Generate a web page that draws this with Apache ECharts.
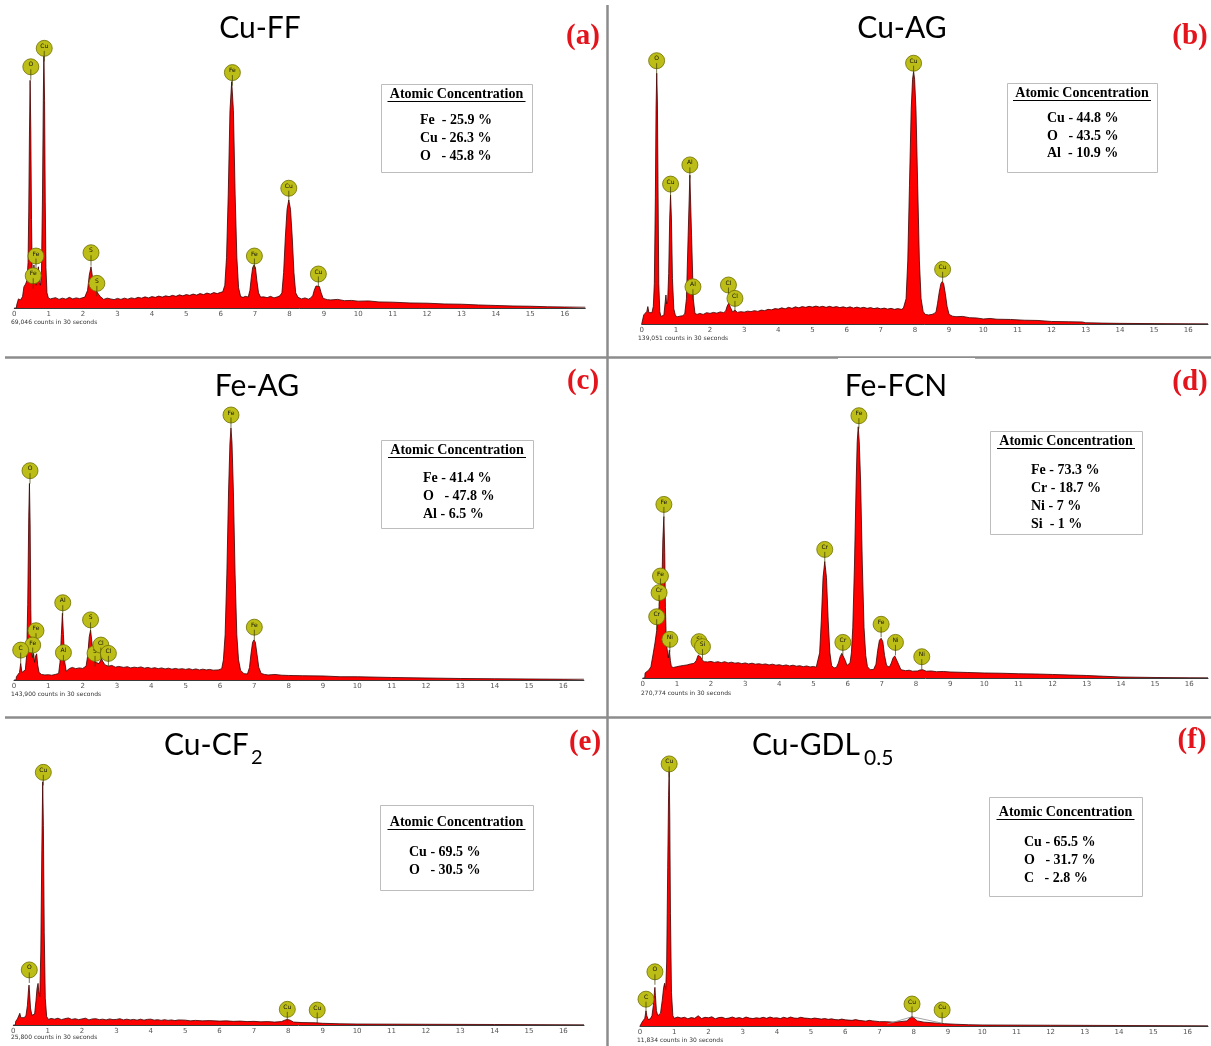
<!DOCTYPE html>
<html><head><meta charset="utf-8">
<script src="https://cdn.jsdelivr.net/npm/echarts@6/dist/echarts.min.js"></script>
<style>html,body{margin:0;padding:0;background:#fff}#c{width:1211px;height:1046px}</style>
</head><body><div id="c"></div><script>
// ---------- data ----------
const panelNames = ['Cu-FF', 'Cu-AG', 'Fe-AG', 'Fe-FCN', 'Cu-CF', 'Cu-GDL'];
const panelSubs = ['', '', '', '', '2', '0.5'];
const panelTags = ['(a)', '(b)', '(c)', '(d)', '(e)', '(f)'];
const countsText = ['69,046 counts in 30 seconds', '139,051 counts in 30 seconds', '143,900 counts in 30 seconds',
  '270,774 counts in 30 seconds', '25,800 counts in 30 seconds', '11,834 counts in 30 seconds'];
const tickLabels = ['0','1','2','3','4','5','6','7','8','9','10','11','12','13','14','15','16'];
const boxTitle = 'Atomic Concentration';
const concA = ['Fe  - 25.9 %', 'Cu - 26.3 %', 'O   - 45.8 %'];
const concB = ['Cu - 44.8 %', 'O   - 43.5 %', 'Al  - 10.9 %'];
const concC = ['Fe - 41.4 %', 'O   - 47.8 %', 'Al - 6.5 %'];
const concD = ['Fe - 73.3 %', 'Cr - 18.7 %', 'Ni - 7 %', 'Si  - 1 %'];
const concE = ['Cu - 69.5 %', 'O   - 30.5 %'];
const concF = ['Cu - 65.5 %', 'O   - 31.7 %', 'C   - 2.8 %'];

// spectra: [energy keV, relative counts (% of tallest peak)]
const specA = [[0,0],[0.06,0],[0.07,1.2],[0.12,3.6],[0.18,3.2],[0.24,4.5],[0.28,8.4],[0.33,9.5],[0.37,11],[0.4,18],[0.42,38],[0.44,68],[0.46,90],[0.48,70],[0.5,35],[0.52,15],[0.54,10],[0.57,17],[0.6,12],[0.63,9],[0.66,8.4],[0.7,16.3],[0.73,10],[0.76,9],[0.79,14],[0.82,45],[0.845,85],[0.86,100],[0.88,82],[0.9,42],[0.92,16],[0.95,6],[0.99,4],[1.05,3.6],
  [1.1,3.6],[1.2,4.1],[1.3,3.4],[1.4,3.9],[1.5,3.5],[1.6,4.2],[1.7,3.6],[1.8,4.0],[1.9,3.7],[2.05,4.3],[2.13,7],[2.18,13],[2.23,16.3],[2.27,12.5],[2.31,8.5],[2.36,8.2],[2.42,6],[2.5,4.5],[2.6,3.4],[2.7,3.9],[2.8,3.6],[2.9,3.3],[3.0,3.8],[3.1,3.4],[3.2,3.9],[3.3,3.5],[3.4,4.0],[3.5,3.7],[3.6,4.2],[3.7,3.9],[3.8,4.4],[3.9,4.0],[4.0,4.5],[4.1,4.2],[4.2,4.7],[4.3,4.3],[4.4,4.8],[4.5,4.5],[4.6,5.0],[4.7,4.6],[4.8,5.2],[4.9,4.8],[5.0,5.3],[5.1,5.0],[5.2,5.5],[5.3,5.1],[5.4,5.7],[5.5,5.3],[5.6,5.9],[5.7,5.5],[5.8,6.1],[5.9,5.7],[6.0,6.2],[6.06,6.4],
  [6.12,9],[6.17,20],[6.22,45],[6.27,78],[6.32,89.5],[6.37,78],[6.42,45],[6.47,20],[6.52,8],[6.58,4.5],[6.65,4.2],[6.72,4.6],[6.8,4.3],[6.85,7],[6.89,12],[6.93,16],[6.97,17],[7.01,16],[7.05,11],[7.1,6],[7.16,4.3],[7.25,4.4],[7.35,4.1],[7.45,4.6],[7.55,4.0],[7.65,4.4],[7.72,4.8],
  [7.78,6],[7.83,14],[7.88,28],[7.93,39],[7.98,42.7],[8.03,39],[8.08,28],[8.13,14],[8.18,6],[8.25,4.2],[8.35,3.6],[8.45,4.0],[8.55,3.5],[8.62,4.0],[8.68,5],[8.72,7],[8.77,8.7],[8.82,9.1],[8.87,8.5],[8.92,6],[8.98,3.8],[9.1,3.3],[9.2,3.2],[9.4,3.4],[9.6,2.9],[9.8,3.0],[10.0,2.7],[10.3,2.8],[10.6,2.4],[11.0,2.3],[11.5,2.0],[12.0,1.9],[12.5,1.6],[13.0,1.5],[13.5,1.2],[14.0,1.0],[14.5,0.8],[15.0,0.7],[15.5,0.5],[16.0,0.4],[16.6,0.3]];

const specB = [[0,0],[0.05,0],[0.06,3.6],[0.1,3.2],[0.15,5],[0.18,6.9],[0.21,4.5],[0.26,3.8],[0.3,4.5],[0.34,7],[0.37,16],[0.4,50],[0.42,85],[0.44,99.4],[0.46,88],[0.48,50],[0.5,16],[0.53,5],[0.56,3],[0.6,2.7],[0.65,3.5],[0.69,9],[0.71,11.5],[0.73,8],[0.76,9],[0.79,20],[0.82,42],[0.845,51.1],[0.87,42],[0.9,18],[0.94,6],[0.99,3.2],[1.05,2.9],[1.12,3.1],[1.2,3.3],[1.26,4],[1.31,10],[1.36,35],[1.41,59],[1.46,35],[1.51,10],[1.56,4.2],[1.62,3.8],[1.7,4.2],[1.8,3.8],[1.9,4.5],[2.0,4.2],[2.1,4.6],[2.2,4.3],[2.3,4.8],[2.4,4.5],[2.46,5.2],[2.5,7],[2.55,8.3],[2.6,6.5],[2.66,4.8],[2.73,5.5],[2.8,4.6],[2.9,4.9],[3.0,4.7],[3.1,5.1],[3.2,4.9],[3.3,5.3],[3.4,5.0],[3.5,5.5],[3.6,5.3],[3.7,5.8],[3.8,5.6],[3.9,6.1],[4.0,5.9],[4.1,6.4],[4.2,6.0],[4.3,6.6],[4.4,6.2],[4.5,6.8],[4.6,6.4],[4.7,6.9],[4.8,6.6],[4.9,7.0],[5.0,6.7],[5.1,7.1],[5.2,6.7],[5.3,7.0],[5.4,6.6],[5.5,7.0],[5.6,6.6],[5.7,6.9],[5.8,6.5],[5.9,6.8],[6.0,6.4],[6.1,6.8],[6.2,6.3],[6.3,6.7],[6.4,6.3],[6.5,6.6],[6.6,6.2],[6.7,6.5],[6.8,6.1],[6.9,6.4],[7.0,6.0],[7.1,6.3],[7.2,5.9],[7.3,6.2],[7.4,5.8],[7.5,6.1],[7.6,5.8],[7.66,6.2],
  [7.7,6.5],[7.74,10],[7.79,25],[7.84,55],[7.89,85],[7.93,97],[7.96,100],[7.99,97],[8.03,85],[8.08,55],[8.13,25],[8.18,10],[8.24,5],[8.3,3.8],[8.4,3.6],[8.5,3.8],[8.57,4.2],[8.62,5],[8.66,8],[8.71,12.5],[8.76,16],[8.8,16.8],[8.84,16],[8.89,12],[8.94,7],[9.0,3.8],[9.1,3.1],[9.2,2.9],[9.4,3.0],[9.6,2.5],[9.8,2.4],[10.0,2.0],[10.2,2.2],[10.4,1.9],[10.8,1.8],[11.2,1.5],[11.6,1.4],[12.0,1.0],[12.5,0.9],[12.9,0.8],[13.0,0.5],[13.5,0.35],[14.0,0.25],[15.0,0.15],[16.0,0.1],[16.58,0.1]];

const specC = [[0,0],[0.06,0],[0.07,1.3],[0.12,1.5],[0.16,3],[0.195,6.6],[0.23,3],[0.28,2.5],[0.33,4],[0.37,10],[0.4,30],[0.43,65],[0.45,78],[0.47,62],[0.49,28],[0.51,12],[0.54,9],[0.57,10.6],[0.6,7],[0.63,9.5],[0.66,10.4],[0.69,6],[0.73,3],[0.8,2.2],[0.9,2.0],[1.0,2.1],[1.1,1.9],[1.2,2.2],[1.3,2.6],[1.34,7],[1.38,18],[1.41,26.5],[1.44,18],[1.48,7],[1.52,3.5],[1.56,3.3],[1.62,4.6],[1.7,5],[1.8,4.5],[1.9,4.8],[2.0,4.6],[2.1,5.5],[2.15,10],[2.19,17],[2.23,19.8],[2.27,15],[2.31,9],[2.36,7],[2.42,6.8],[2.48,6.5],[2.52,7.8],[2.55,8.6],[2.58,7.5],[2.65,6],[2.75,5.5],[2.85,5.8],[2.95,5.1],[3.05,5.4],[3.2,5.0],[3.3,5.3],[3.4,4.8],[3.5,5.1],[3.6,4.9],[3.7,5.2],[3.8,4.7],[3.9,5.0],[4.0,4.6],[4.1,4.9],[4.2,4.5],[4.3,4.8],[4.4,4.4],[4.5,4.7],[4.6,4.3],[4.7,4.6],[4.8,4.3],[4.9,4.5],[5.0,4.2],[5.1,4.5],[5.2,4.1],[5.3,4.4],[5.4,4.0],[5.5,4.3],[5.6,4.0],[5.7,4.2],[5.8,3.9],[5.95,4.0],
  [6.05,4.5],[6.1,8],[6.15,18],[6.2,42],[6.25,75],[6.29,94],[6.32,100],[6.35,94],[6.39,75],[6.44,42],[6.49,18],[6.54,8],[6.6,3.8],[6.7,2.5],[6.8,2.4],[6.86,5],[6.9,10],[6.95,15],[6.99,15.9],[7.03,15],[7.08,10],[7.13,5],[7.2,2.6],[7.3,2.2],[7.4,2.0],[7.6,2.2],[7.8,1.9],[8.0,1.8],[8.4,1.7],[9.0,1.6],[9.5,1.3],[10.0,1.3],[11.0,1.0],[12.0,0.8],[13.0,0.6],[14.0,0.5],[15.0,0.4],[16.0,0.3],[16.6,0.3]];

const specD = [[0,0],[0.06,0],[0.07,2],[0.12,2.5],[0.18,3.2],[0.24,4.5],[0.31,9.9],[0.36,14],[0.41,19],[0.46,26],[0.5,31],[0.54,36],[0.57,42],[0.59,55],[0.62,64.2],[0.645,50],[0.665,28],[0.685,17.9],[0.71,12],[0.73,9.9],[0.75,8],[0.78,11.1],[0.81,7],[0.84,4.5],[0.9,4.2],[1.0,4.5],[1.1,4.8],[1.2,5.0],[1.3,5.2],[1.4,5.6],[1.5,5.8],[1.57,7],[1.62,9],[1.65,9.2],[1.69,8.5],[1.74,7.2],[1.8,6.5],[1.9,6.4],[2.0,6.6],[2.1,6.2],[2.2,6.5],[2.3,6.1],[2.4,6.5],[2.5,6.0],[2.6,6.3],[2.7,5.9],[2.8,6.1],[2.9,5.7],[3.0,6.0],[3.1,5.6],[3.2,5.9],[3.3,5.5],[3.4,5.7],[3.5,5.4],[3.6,5.6],[3.7,5.2],[3.8,5.5],[3.9,5.1],[4.0,5.3],[4.1,4.9],[4.2,5.2],[4.3,4.8],[4.4,5.1],[4.5,4.7],[4.6,4.9],[4.7,4.5],[4.8,4.8],[4.9,4.4],[5.0,4.6],[5.08,4.3],
  [5.13,5],[5.18,10],[5.23,23],[5.28,40],[5.33,46.3],[5.38,40],[5.43,23],[5.48,10],[5.53,5],[5.6,4],[5.67,4.2],[5.73,6],[5.78,8.5],[5.83,9.8],[5.88,9.5],[5.93,7],[5.98,5],[6.03,4.8],
  [6.07,6],[6.11,10],[6.15,20],[6.2,45],[6.25,78],[6.28,94],[6.31,100],[6.34,94],[6.38,78],[6.43,45],[6.48,20],[6.53,9],[6.58,4.5],[6.66,3.3],[6.76,3.4],[6.83,5.5],[6.88,11],[6.93,15],[6.98,15.8],[7.03,14.5],[7.08,9],[7.14,5],[7.22,4.3],[7.28,6],[7.33,8],[7.38,8.8],[7.43,8.2],[7.49,5.5],[7.56,3.3],[7.7,2.9],[7.8,3.1],[7.9,2.7],[8.05,2.8],[8.12,3.2],[8.2,3.3],[8.3,2.7],[8.45,2.8],[8.6,2.5],[8.8,2.6],[9.0,2.4],[9.5,2.2],[10.0,2.0],[10.5,1.9],[11.0,1.7],[11.5,1.6],[12.0,1.4],[12.5,1.2],[13.0,1.0],[13.5,0.7],[14.0,0.4],[15.0,0.2],[16.0,0.1],[16.55,0.1]];

const specE = [[0,0],[0.06,0],[0.07,1.5],[0.12,2.5],[0.16,3.2],[0.19,4.8],[0.22,3],[0.27,2.5],[0.32,3],[0.37,4],[0.41,8],[0.44,14],[0.457,16.4],[0.47,14],[0.5,7],[0.54,4],[0.58,3.4],[0.62,4.5],[0.66,10],[0.69,15],[0.72,17.1],[0.74,14],[0.77,11.6],[0.8,30],[0.83,72],[0.855,100],[0.875,82],[0.9,38],[0.93,11],[0.97,3.5],[1.02,2.3],[1.1,2.7],[1.2,2.4],[1.3,2.8],[1.4,2.2],[1.5,2.6],[1.6,2.9],[1.7,2.3],[1.8,2.6],[1.9,2.2],[2.0,2.5],[2.1,2.8],[2.2,2.1],[2.3,2.5],[2.4,2.6],[2.5,2.2],[2.6,2.4],[2.7,2.1],[2.8,2.5],[2.9,2.2],[3.0,2.3],[3.1,2.6],[3.2,2.1],[3.3,2.4],[3.4,2.1],[3.5,2.3],[3.6,2.0],[3.7,2.4],[3.8,2.0],[3.9,2.3],[4.0,2.4],[4.1,2.0],[4.2,2.2],[4.3,1.9],[4.4,2.2],[4.5,1.9],[4.6,2.1],[4.7,1.8],[4.8,2.1],[5.0,2.0],[5.15,1.7],[5.3,1.9],[5.5,1.7],[5.7,1.8],[6.0,1.6],[6.2,1.7],[6.4,1.5],[6.6,1.6],[6.8,1.4],[7.0,1.5],[7.2,1.3],[7.4,1.4],[7.6,1.2],[7.8,1.4],[7.9,2.0],[7.97,2.3],[8.05,2.0],[8.15,1.2],[8.4,1.0],[8.8,0.9],[9.0,0.7],[9.5,0.5],[10.0,0.4],[12.0,0.3],[14.0,0.2],[16.6,0.1]];

const specF = [[0,0],[0.05,0],[0.06,1.5],[0.1,2.2],[0.14,3],[0.175,5.9],[0.2,4],[0.24,2.5],[0.3,2.8],[0.35,4],[0.39,8],[0.42,13],[0.436,15.1],[0.45,12],[0.48,6],[0.52,4],[0.56,3.6],[0.6,5],[0.65,10],[0.69,15],[0.72,16.7],[0.75,14],[0.78,25],[0.81,62],[0.835,90],[0.853,100],[0.87,82],[0.89,44],[0.92,13],[0.96,4],[1.0,3.0],[1.1,3.5],[1.2,3.1],[1.3,3.4],[1.4,2.8],[1.5,3.3],[1.6,3.0],[1.7,4.0],[1.8,2.9],[1.9,3.4],[2.0,3.2],[2.1,3.6],[2.2,2.8],[2.3,3.3],[2.4,3.4],[2.5,2.9],[2.6,3.1],[2.7,3.5],[2.8,3.0],[2.9,3.3],[3.0,2.9],[3.1,3.5],[3.2,3.1],[3.3,2.9],[3.4,3.2],[3.5,3.0],[3.6,3.4],[3.7,3.0],[3.8,3.5],[3.9,3.1],[4.0,3.2],[4.1,2.9],[4.2,3.4],[4.3,3.0],[4.4,3.5],[4.5,3.1],[4.6,3.0],[4.7,3.4],[4.8,3.1],[4.9,3.0],[5.0,2.8],[5.1,3.1],[5.2,2.9],[5.3,2.7],[5.4,2.9],[5.5,2.6],[5.6,2.8],[5.7,2.5],[5.8,2.4],[5.9,2.7],[6.0,2.4],[6.2,2.2],[6.3,2.5],[6.4,2.2],[6.6,1.9],[6.7,2.2],[6.8,2.0],[7.0,1.7],[7.2,1.7],[7.4,1.5],[7.6,1.7],[7.8,2.0],[7.88,3.0],[7.95,3.6],[8.02,3.0],[8.1,2.0],[8.3,1.5],[8.6,1.2],[8.9,0.9],[9.2,0.7],[9.6,0.5],[10.0,0.4],[12.0,0.3],[14.0,0.2],[16.6,0.1]];
const fitF = [[7.23,0.8],[7.95,3.6],[8.83,1.1]];

// element markers: [energy, counts level at stem foot, element]
const markA = [[0.48,90.2,'O'],[0.87,97.5,'Cu'],[6.34,87.9,'Fe'],[7.98,42.2,'Cu'],[6.98,15.4,'Fe'],[8.84,8.3,'Cu'],[2.23,16.7,'S'],[2.40,4.6,'S'],[0.63,15.4,'Fe'],[0.55,7.6,'Fe']];
const markB = [[0.437,99.2,'O'],[7.96,98.2,'Cu'],[1.41,57.9,'Al'],[0.845,50.3,'Cu'],[1.50,9.6,'Al'],[2.54,10.3,'Cl'],[2.73,5.0,'Cl'],[8.81,16.5,'Cu']];
const markC = [[0.466,77.9,'O'],[1.42,25.5,'Al'],[1.44,5.7,'Al'],[2.23,18.7,'S'],[0.64,14.4,'Fe'],[0.545,8.7,'Fe'],[0.195,6.7,'C'],[2.36,5.4,'S'],[2.53,8.7,'Cl'],[2.75,5.4,'Cl'],[6.32,100,'Fe'],[7.0,15.8,'Fe']];
const markD = [[6.33,99.2,'Fe'],[0.62,63.9,'Fe'],[0.52,35.4,'Fe'],[0.48,28.8,'Cr'],[0.41,19.2,'Cr'],[0.795,10.2,'Ni'],[1.65,9.3,'Si'],[1.75,7.3,'Si'],[5.33,46.0,'Cr'],[5.86,9.0,'Cr'],[6.98,16.2,'Fe'],[7.40,9.0,'Ni'],[8.17,3.3,'Ni']];
const markE = [[0.873,98.5,'Cu'],[0.465,17.3,'O'],[7.97,1.1,'Cu'],[8.84,0.8,'Cu']];
const markF = [[0.853,97.3,'Cu'],[0.436,16.1,'O'],[0.175,5.4,'C'],[7.95,3.5,'Cu'],[8.83,1.2,'Cu']];

// ---------- layout ----------
const specs = [specA, specB, specC, specD, specE, specF];
const marks = [markA, markB, markC, markD, markE, markF];
const concs = [concA, concB, concC, concD, concE, concF];
const grids = [
  {left: 14.3, top: 55, width: 571.0, height: 253, xmax: 16.6},
  {left: 641.7, top: 71.7, width: 569.2, height: 252.3, xmax: 16.58},
  {left: 14, top: 428, width: 569.9, height: 252, xmax: 16.6},
  {left: 642.7, top: 426.7, width: 568.2, height: 251.3, xmax: 16.55},
  {left: 13.3, top: 781.7, width: 570.7, height: 243.3, xmax: 16.6},
  {left: 640, top: 770, width: 570.5, height: 256, xmax: 16.6}
];
const titlePos = [[260, 28], [902, 28], [257, 386], [896, 386], [164, 745], [752, 745]];
const subPos = [null, null, null, null, [251, 758], [864, 758]];
const subSize = [0, 0, 0, 0, 20, 21];
const tagPos = [[583, 37], [1190, 37], [583, 382], [1190, 383], [585, 743], [1192, 741]];
const countPos = [[11, 322], [638, 338], [11, 694], [641, 693], [11, 1037], [637, 1040]];
const boxes = [
  {x: 381, y: 84, w: 151, h: 88, ty: 94, lx: 420, ly: [120, 138, 156]},
  {x: 1007, y: 83, w: 150, h: 89, ty: 93, lx: 1047, ly: [118, 136, 153]},
  {x: 381, y: 440, w: 152, h: 88, ty: 450, lx: 423, ly: [478, 496, 514]},
  {x: 990, y: 431, w: 152, h: 103, ty: 441, lx: 1031, ly: [470, 488, 506, 524]},
  {x: 380, y: 805, w: 153, h: 85, ty: 822, lx: 409, ly: [852, 870]},
  {x: 989, y: 797, w: 153, h: 99, ty: 812, lx: 1024, ly: [842, 860, 878]}
];

const option = {
  animation: false,
  backgroundColor: '#fff',
  grid: grids.map(g => ({left: g.left, top: g.top, width: g.width, height: g.height, containLabel: false})),
  xAxis: grids.map((g, i) => ({
    type: 'value', gridIndex: i, min: 0, max: g.xmax, interval: 1,
    axisLine: {show: true, onZero: false, lineStyle: {color: '#3a3a3a', width: 1}},
    axisTick: {show: false}, splitLine: {show: false},
    axisLabel: {fontSize: 7, color: '#555', margin: 3, fontFamily: 'DejaVu Sans',
      formatter: v => (Math.abs(v - Math.round(v)) < 1e-6 && tickLabels[Math.round(v)] !== undefined) ? tickLabels[Math.round(v)] : ''}
  })),
  yAxis: grids.map((g, i) => ({type: 'value', gridIndex: i, min: 0, max: 100, show: false})),
  series: [],
  graphic: {elements: []}
};

specs.forEach((s, i) => {
  option.series.push({
    type: 'line', xAxisIndex: i, yAxisIndex: i, data: s, showSymbol: false, symbol: 'none',
    lineStyle: {color: '#3a0000', width: 0.8}, areaStyle: {color: '#ff0000', opacity: 1}, z: 2
  });
});
option.series.push({
  type: 'line', xAxisIndex: 5, yAxisIndex: 5, data: fitF, symbol: 'none',
  lineStyle: {color: '#8a8a8a', width: 0.8}, z: 3
});
marks.forEach((m, i) => {
  option.series.push({
    type: 'custom', xAxisIndex: i, yAxisIndex: i, data: m.map(d => [d[0], d[1]]), clip: false, z: 5,
    encode: {x: 0, y: 1},
    renderItem: (params, api) => {
      const p = api.coord([api.value(0), api.value(1)]);
      const cy = p[1] - 13;
      return {type: 'group', children: [
        {type: 'circle', shape: {cx: p[0], cy: cy, r: 8}, style: {fill: '#bdbd17', stroke: '#6e6e00', lineWidth: 0.8}},
        {type: 'line', shape: {x1: p[0], y1: cy + 2.5, x2: p[0], y2: p[1]}, style: {stroke: '#3a3a00', lineWidth: 0.7}},
        {type: 'text', style: {text: m[params.dataIndex][2], x: p[0], y: cy - 2, align: 'center', verticalAlign: 'middle',
          fontSize: 6, fontFamily: 'DejaVu Sans', fill: '#111'}}
      ]};
    }
  });
});

const G = option.graphic.elements;
// dividers
G.push({type: 'line', shape: {x1: 607.5, y1: 5, x2: 607.5, y2: 1046}, style: {stroke: '#8c8c8c', lineWidth: 2.5}, z: 10});
G.push({type: 'line', shape: {x1: 5, y1: 357.5, x2: 1211, y2: 357.5}, style: {stroke: '#8c8c8c', lineWidth: 2.5}, z: 10});
G.push({type: 'line', shape: {x1: 5, y1: 717.5, x2: 1211, y2: 717.5}, style: {stroke: '#8c8c8c', lineWidth: 2.5}, z: 10});
G.push({type: 'rect', shape: {x: 838, y: 358, width: 137, height: 1.5}, style: {fill: '#fff'}, z: 11});

panelNames.forEach((n, i) => {
  const align = panelSubs[i] ? 'left' : 'center';
  G.push({type: 'text', z: 10, style: {text: n, x: titlePos[i][0], y: titlePos[i][1], align: align, verticalAlign: 'middle',
    fontSize: 30, fontFamily: 'Lato', fill: '#000'}});
  if (panelSubs[i]) {
    G.push({type: 'text', z: 10, style: {text: panelSubs[i], x: subPos[i][0], y: subPos[i][1], align: 'left', verticalAlign: 'middle',
      fontSize: subSize[i], fontFamily: 'Lato', fill: '#000'}});
  }
  G.push({type: 'text', z: 10, style: {text: panelTags[i], x: tagPos[i][0], y: tagPos[i][1], align: 'center', verticalAlign: 'middle',
    fontSize: 29, fontWeight: 'bold', fontFamily: 'Liberation Serif', fill: '#e3141c'}});
  G.push({type: 'text', z: 10, style: {text: countsText[i], x: countPos[i][0], y: countPos[i][1], align: 'left', verticalAlign: 'middle',
    fontSize: 6, fontFamily: 'DejaVu Sans', fill: '#333'}});
  const b = boxes[i];
  const cx = b.x + b.w / 2;
  G.push({type: 'rect', z: 9, shape: {x: b.x + 0.5, y: b.y + 0.5, width: b.w, height: b.h}, style: {fill: '#fff', stroke: '#bdbdbd', lineWidth: 1}});
  G.push({type: 'text', z: 10, style: {text: boxTitle, x: cx, y: b.ty, align: 'center', verticalAlign: 'middle',
    fontSize: 14, fontWeight: 'bold', fontFamily: 'Liberation Serif', fill: '#000'}});
  G.push({type: 'line', z: 10, shape: {x1: cx - 69, y1: b.ty + 7.5, x2: cx + 69, y2: b.ty + 7.5}, style: {stroke: '#000', lineWidth: 1.2}});
  concs[i].forEach((t, k) => {
    G.push({type: 'text', z: 10, style: {text: t, x: b.lx, y: b.ly[k], align: 'left', verticalAlign: 'middle',
      fontSize: 14, fontWeight: 'bold', fontFamily: 'Liberation Serif', fill: '#000'}});
  });
});

const chart = echarts.init(document.getElementById('c'), null, {renderer: 'canvas'});
chart.setOption(option);
</script></body></html>
